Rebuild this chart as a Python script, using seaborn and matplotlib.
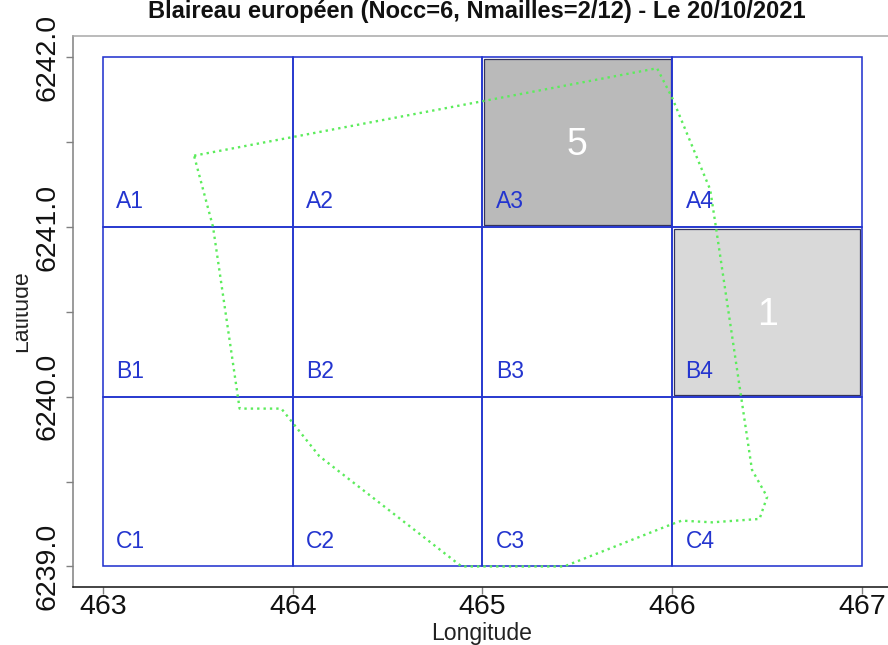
import matplotlib
matplotlib.use("Agg")
import matplotlib.pyplot as plt
from matplotlib.patches import Rectangle
from matplotlib.transforms import Bbox
import pandas as pd
import seaborn as sns

title = "Blaireau européen (Nocc=6, Nmailles=2/12) - Le 20/10/2021"
x_edges = [463, 464, 465, 466, 467]
y_edges = [6239, 6240, 6241, 6242]
x_ticks = [463, 464, 465, 466, 467]
x_tick_labels = ["463", "464", "465", "466", "467"]
y_ticks = [6239, 6240, 6241, 6242]
y_minor_ticks = [6239.5, 6240.5, 6241.5]
y_tick_labels = ["6239.0", "6240.0", "6241.0", "6242.0"]
rows = ["A", "B", "C"]
cols = ["1", "2", "3", "4"]
filled_cols = [465, 466]
filled_rows = [6241, 6240]
filled_counts = ["5", "1"]
filled_colors = ["#bababa", "#d9d9d9"]
outline_x = [463.48, 465.92, 466.0, 466.20, 466.23, 466.42, 466.50, 466.46, 466.21, 466.05, 466.0,
             465.43, 464.89, 464.14, 463.94, 463.72, 463.58, 463.48]
outline_y = [6241.42, 6241.935, 6241.76, 6241.22, 6241.0, 6239.57, 6239.41, 6239.28, 6239.26, 6239.27, 6239.25,
             6239.0, 6239.0, 6239.65, 6239.93, 6239.93, 6241.0, 6241.42]

sns.set_theme(style="ticks")
plt.rcParams["font.family"] = ["Liberation Sans", "DejaVu Sans"]
W, H = 888, 645
fig = plt.figure(figsize=(W / 100, H / 100), dpi=100)
ax = fig.add_axes([73 / W, 1 - 586.5 / H, (W - 73) / W, (586.5 - 36) / H])
ax.set_xlim(462.842, 467.137)
ax.set_ylim(6238.882, 6242.125)

blue = "#2435cf"
inset_x, inset_y = 0.009, 0.01
for cx, cy, lab, col in zip(filled_cols, filled_rows, filled_counts, filled_colors):
    ax.add_patch(Rectangle((cx + inset_x, cy + inset_y), 1 - 2 * inset_x, 1 - 2 * inset_y,
                           facecolor=col, edgecolor="#34345c", lw=0.9, zorder=1))
    ax.text(cx + 0.5, cy + 0.48, lab, color="white", fontsize=27, ha="center", va="center", zorder=4)

for i, r in enumerate(rows):
    for j, c in enumerate(cols):
        ax.add_patch(Rectangle((x_edges[j], y_edges[2 - i]), 1, 1, fill=False, edgecolor=blue, lw=1.15, zorder=2))
        ax.text(x_edges[j] + 0.07, y_edges[2 - i] + 0.15, r + c, color=blue, fontsize=16.5,
                ha="left", va="center", zorder=4)

df = pd.DataFrame({"x": outline_x, "y": outline_y})
sns.lineplot(data=df, x="x", y="y", sort=False, estimator=None, color="#5cec5c", lw=1.7,
             linestyle=(0, (1, 1.7)), ax=ax, zorder=3)

ax.spines["right"].set_visible(False)
ax.spines["top"].set_color("#a8a8a8")
ax.spines["left"].set_color("#808080")
ax.spines["bottom"].set_color("#111111")
for s in ["top", "left", "bottom"]:
    ax.spines[s].set_linewidth(1.1)

ax.set_xticks(x_ticks, x_tick_labels, fontsize=20.5)
ax.set_yticks(y_ticks, y_tick_labels, fontsize=20.5, rotation=90, va="center")
ax.set_yticks(y_minor_ticks, minor=True)
ax.tick_params(axis="both", which="both", length=5, width=1, color="#808080", labelcolor="#111111")
ax.tick_params(axis="x", pad=0.5)
ax.tick_params(axis="y", pad=4)
ax.set_xlabel("Longitude", fontsize=16.6, color="#222222")
ax.xaxis.set_label_coords((482 - 73) / 815, (586.5 - 640) / 550.5)
ax.xaxis.label.set_va("baseline")
ylab = ax.set_ylabel("Latitude", fontsize=16.6, color="#222222")
ax.yaxis.set_label_coords((27 - 73) / 815, 0.5)
ylab.set_va("baseline")
ylab.set_clip_on(True)
ylab.set_clip_box(Bbox([[15.5, 0], [200, H]]))
fig.text(477 / W, 1 - 18 / H, title, fontsize=17, fontweight="bold", ha="center", va="baseline", color="#111111")
fig.savefig("out.png", dpi=100)
